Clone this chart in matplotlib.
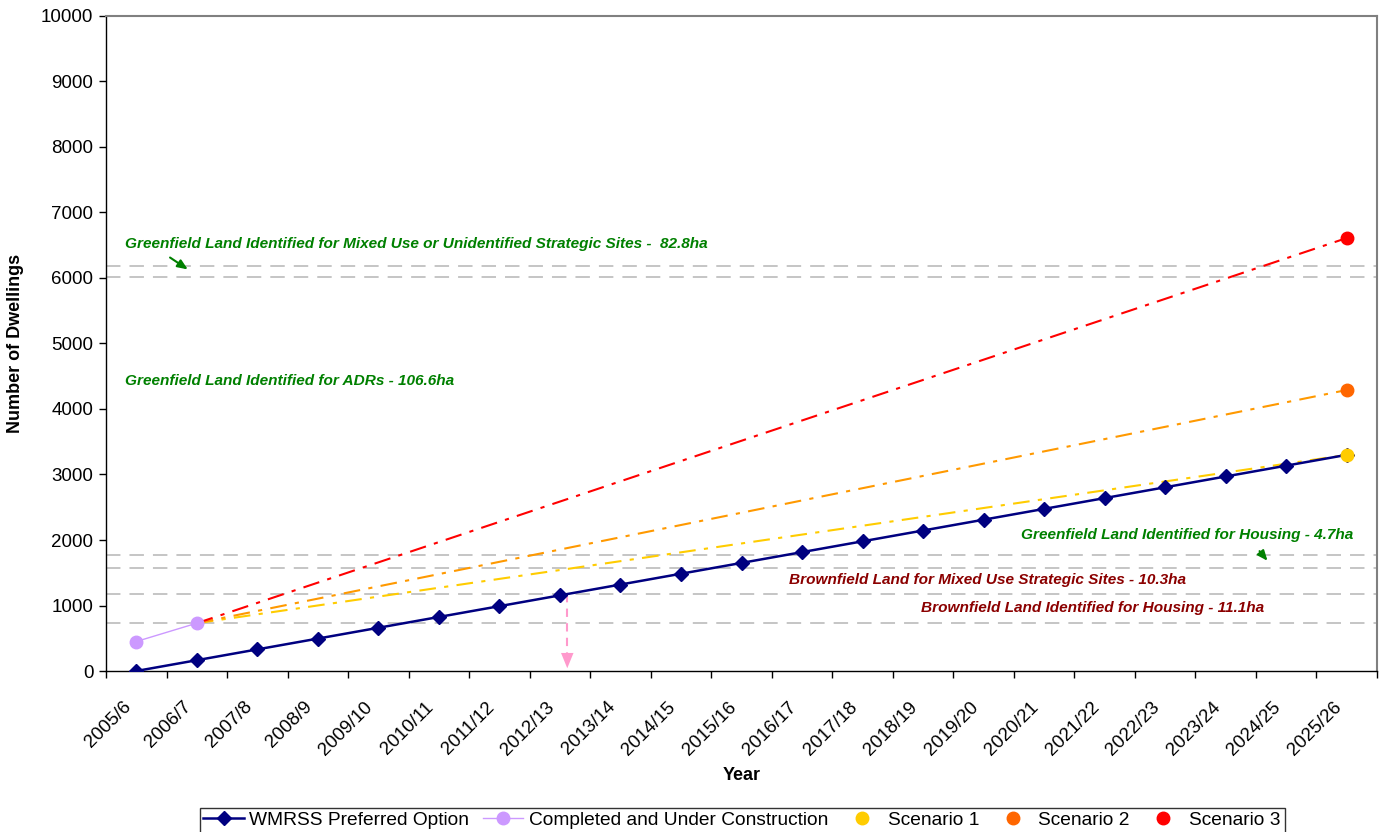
import matplotlib
matplotlib.use("Agg")
import matplotlib.pyplot as plt
from matplotlib.transforms import ScaledTranslation
import numpy as np

plt.rcParams['font.family'] = ['Liberation Sans', 'DejaVu Sans']

years = ['2005/6', '2006/7', '2007/8', '2008/9', '2009/10', '2010/11', '2011/12',
         '2012/13', '2013/14', '2014/15', '2015/16', '2016/17', '2017/18', '2018/19',
         '2019/20', '2020/21', '2021/22', '2022/23', '2023/24', '2024/25', '2025/26']

wmrss = [0, 165, 330, 495, 660, 825, 990, 1155, 1320, 1485, 1650, 1815, 1980,
         2145, 2310, 2475, 2640, 2805, 2970, 3135, 3300]

completed = [450, 730]                 # 2005/6, 2006/7

scenario_start = 730                   # 2006/7 completions
scenario_end = {'Scenario 1': 3300, 'Scenario 2': 4290, 'Scenario 3': 6610}

land_levels = [730, 1175, 1570, 1770, 6015, 6185]
brownfield_total = 1175

fig = plt.figure(figsize=(13.82, 8.32), dpi=100)
ax = fig.add_axes([0.0767, 0.1935, 0.9197, 0.7873])

x = np.arange(len(years))

# land supply thresholds
for lvl in land_levels:
    ax.axhline(lvl, color='#C0C0C0', lw=1.3, dashes=(8, 5), zorder=1)

# scenario projections
sc_line = {'Scenario 1': '#FFCC00', 'Scenario 2': '#FF9900', 'Scenario 3': '#FF0000'}
sc_mark = {'Scenario 1': '#FFCC00', 'Scenario 2': '#FF6600', 'Scenario 3': '#FF0000'}
for name, end in scenario_end.items():
    ax.plot([x[1], x[-1]], [scenario_start, end], color=sc_line[name], lw=1.5,
            dashes=(8, 4, 2, 4), zorder=2)

ax.plot(x, wmrss, color='#000080', lw=1.8, marker='D', ms=7.5, zorder=4,
        label='WMRSS Preferred Option')
ax.plot(x[:2], completed, color='#CC99FF', lw=1, marker='o', ms=9, zorder=5,
        label='Completed and Under Construction')
for name, end in scenario_end.items():
    ax.plot([x[-1]], [end], ls='none', marker='o', ms=9, color=sc_mark[name],
            zorder=6, label=name)

# year when the WMRSS trajectory reaches the brownfield supply
cross = np.interp(brownfield_total, wmrss, x)
ax.plot([cross, cross], [brownfield_total, 200], color='#FF99CC', lw=1.5,
        dashes=(4, 3), zorder=3)
ax.annotate('', xy=(cross, 0), xytext=(cross, 230),
            arrowprops=dict(arrowstyle='-|>,head_length=1.1,head_width=0.45',
                            color='#FF99CC', lw=0), zorder=3)

green = '#008000'
brown = '#8B0000'
tfont = dict(fontsize=11.1, fontweight='bold', fontstyle='italic')
ax.text(-0.18, 6520, 'Greenfield Land Identified for Mixed Use or Unidentified Strategic Sites -  82.8ha',
        color=green, va='center', ha='left', **tfont)
ax.annotate('', xy=(0.89, 6107), xytext=(0.52, 6336),
            arrowprops=dict(arrowstyle='-|>,head_length=0.6,head_width=0.25',
                            color=green, lw=1.5))
ax.text(-0.18, 4430, 'Greenfield Land Identified for ADRs - 106.6ha',
        color=green, va='center', ha='left', **tfont)
ax.text(20.11, 2076, 'Greenfield Land Identified for Housing - 4.7ha',
        color=green, va='center', ha='right', **tfont)
ax.annotate('', xy=(18.72, 1649), xytext=(18.53, 1863),
            arrowprops=dict(arrowstyle='-|>,head_length=0.6,head_width=0.25',
                            color=green, lw=1.5))
ax.text(10.78, 1389, 'Brownfield Land for Mixed Use Strategic Sites - 10.3ha',
        color=brown, va='center', ha='left', **tfont)
ax.text(12.96, 962, 'Brownfield Land Identified for Housing - 11.1ha',
        color=brown, va='center', ha='left', **tfont)

ax.set_xlim(-0.5, len(years) - 0.5)
ax.set_ylim(0, 10000)
ax.set_yticks(np.arange(0, 10001, 1000))
ax.set_xticks(x)
ax.set_xticklabels(years, rotation=45, ha='right', va='center', rotation_mode='anchor')
ax.set_xticks(np.arange(-0.5, len(years), 1), minor=True)
ax.tick_params(axis='x', which='major', length=0, pad=24, labelsize=13.5)
ax.tick_params(axis='x', which='minor', length=5, direction='out', width=1)
ax.tick_params(axis='y', length=5, direction='out', width=1, labelsize=13.5, pad=4)
shift = ScaledTranslation(-0.08, 0, fig.dpi_scale_trans)
for lab in ax.get_xticklabels():
    lab.set_transform(lab.get_transform() + shift)

for s in ['left', 'bottom']:
    ax.spines[s].set_color('black')
    ax.spines[s].set_linewidth(1)
for s in ['top', 'right']:
    ax.spines[s].set_color('#808080')
    ax.spines[s].set_linewidth(1.5)

ax.set_xlabel('Year', fontsize=13, fontweight='bold', labelpad=6)
ax.set_ylabel('Number of Dwellings', fontsize=13, fontweight='bold', labelpad=12)

leg = fig.legend(loc='upper center', bbox_to_anchor=(0.537, 0.029), ncol=5,
                 fontsize=13.8, frameon=True, fancybox=False, edgecolor='black',
                 borderpad=0.2, handlelength=2.1, columnspacing=0.7,
                 handletextpad=0.3, borderaxespad=0)
leg.get_frame().set_linewidth(1)

fig.savefig('out.png', dpi=100)
